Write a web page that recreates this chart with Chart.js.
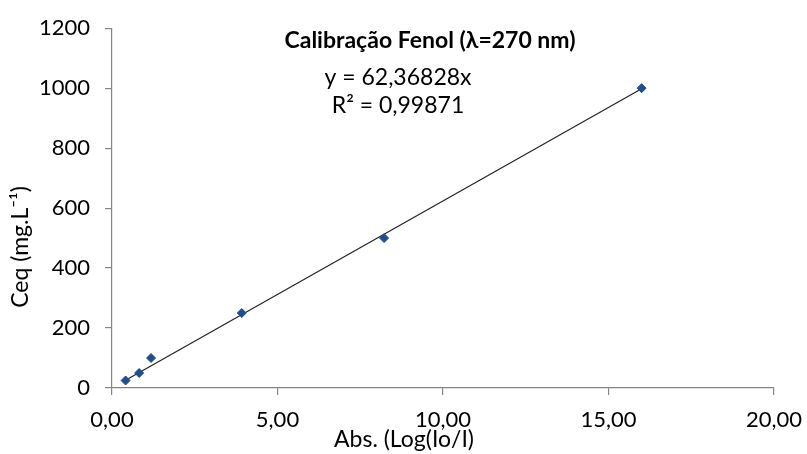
<!DOCTYPE html>
<html>
<head>
<meta charset="utf-8">
<script src="https://cdn.jsdelivr.net/npm/chart.js@4.4.8/dist/chart.umd.min.js"></script>
<style>
  html, body { margin: 0; padding: 0; background: #fff; }
  #wrap { width: 807px; height: 454px; position: relative; }
</style>
</head>
<body>
<div id="wrap"><canvas id="calChart" width="807" height="454"></canvas></div>
<script>
// dados
const absValues = [0.41, 0.82, 1.18, 3.92, 8.22, 16.0];
const ceqValues = [25, 50, 100, 250, 500, 1000];
const slope = 62.36828;
const trendX = [0.41, 16.0];
const xTicks = [0, 5, 10, 15, 20];
const yTicks = [0, 200, 400, 600, 800, 1000, 1200];

const chartTitle = "Calibração Fenol (λ=270 nm)";
const eqText = ["y = 62,36828x", "R² = 0,99871"];
const xTitle = "Abs. (Log(Io/I)";
const yTitle = "Ceq (mg.L⁻¹)";

const FONT = "Lato, 'Open Sans', sans-serif";
const AXIS_GRAY = "#868686";

const points = absValues.map((x, i) => ({ x: x, y: ceqValues[i] }));
const trend = trendX.map(x => ({ x: x, y: slope * x }));

const textPlugin = {
  id: "textPlugin",
  afterDraw(chart) {
    const ctx = chart.ctx;
    ctx.save();
    ctx.fillStyle = "#000";
    ctx.textAlign = "center";
    ctx.textBaseline = "middle";

    ctx.font = "bold 23px " + FONT;
    ctx.fillText(chartTitle, 430, 41);

    ctx.font = "23px " + FONT;
    ctx.fillText(eqText[0], 398, 78);
    ctx.fillText(eqText[1], 398, 106);

    ctx.fillText(xTitle, 404, 440);

    ctx.translate(21, 247);
    ctx.rotate(-Math.PI / 2);
    ctx.fillText(yTitle, 0, 0);
    ctx.restore();
  }
};

new Chart(document.getElementById("calChart"), {
  type: "scatter",
  data: {
    datasets: [
      {
        label: "Ceq",
        data: points,
        pointStyle: "rectRot",
        pointRadius: 4.5,
        pointHoverRadius: 4.5,
        backgroundColor: "#1f4e8c",
        borderColor: "#1f4e8c",
        borderWidth: 1,
        order: 1
      },
      {
        label: "Linear",
        type: "line",
        data: trend,
        borderColor: "#222",
        borderWidth: 1.2,
        pointRadius: 0,
        fill: false,
        order: 2
      }
    ]
  },
  options: {
    responsive: false,
    animation: false,
    layout: { padding: { top: 26, right: 33, left: 0, bottom: 0 } },
    plugins: {
      legend: { display: false },
      tooltip: { enabled: false }
    },
    scales: {
      x: {
        type: "linear",
        min: 0,
        max: 20,
        afterBuildTicks(scale) { scale.ticks = xTicks.map(v => ({ value: v })); },
        afterFit(scale) { scale.height = 66; scale.paddingRight = 0; },
        border: { color: AXIS_GRAY, width: 1.2 },
        grid: { drawOnChartArea: false, drawTicks: true, tickLength: 7, color: AXIS_GRAY, lineWidth: 1.2 },
        ticks: {
          color: "#000",
          font: { family: FONT, size: 22 },
          padding: 12,
          callback: v => v.toFixed(2).replace(".", ",")
        }
      },
      y: {
        type: "linear",
        min: 0,
        max: 1200,
        afterBuildTicks(scale) { scale.ticks = yTicks.map(v => ({ value: v })); },
        afterFit(scale) { scale.width = 112; },
        border: { color: AXIS_GRAY, width: 1.2 },
        grid: { drawOnChartArea: false, drawTicks: true, tickLength: 7, color: AXIS_GRAY, lineWidth: 1.2 },
        ticks: {
          color: "#000",
          font: { family: FONT, size: 22 },
          padding: 15,
          callback: v => String(v)
        }
      }
    }
  },
  plugins: [textPlugin]
});
</script>
</body>
</html>
